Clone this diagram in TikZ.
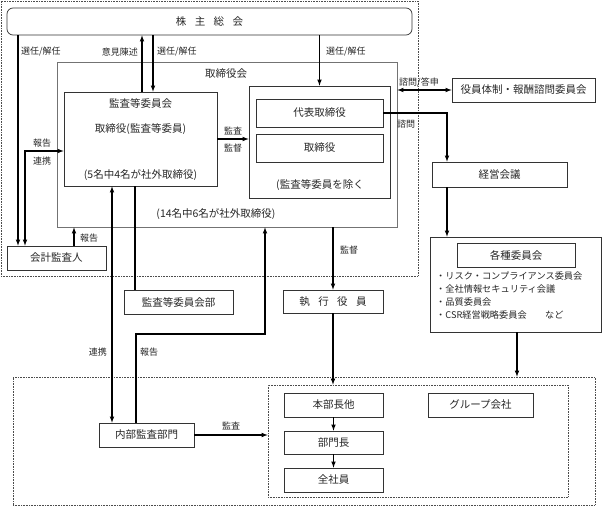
\documentclass[tikz,border=0pt]{standalone}
\usepackage{fontspec}
\setmainfont{Noto Sans CJK JP}
\usetikzlibrary{arrows,positioning}

\newcommand{\jsp}{\hspace{0.8em}}

\begin{document}
\begin{tikzpicture}[x=1pt,y=-1pt,
    box/.style={rectangle, draw=black!80, line width=0.7pt, inner sep=0pt, text=black!85, font=\fontsize{10.5}{12}\selectfont},
    frame/.style={rectangle, draw=black!70, densely dotted, line width=0.6pt, inner sep=0pt},
    txt/.style={inner sep=0pt, text=black!85, font=\fontsize{10.5}{12}\selectfont},
    lbl/.style={inner sep=1pt, text=black!85, font=\fontsize{9}{10}\selectfont},
    arr/.style={-latex, line width=1.1pt},
    darr/.style={latex-latex, line width=1.1pt}]
    \useasboundingbox (0,0) rectangle (603,506);

    % upper part
    \node[frame, minimum width=417pt, minimum height=275pt] (upper) at (209.5,138.5) {};
    \node[box, rounded corners=6pt, minimum width=405pt, minimum height=27pt] (soukai) at (209.5,21.5) {株\jsp 主\jsp 総\jsp 会};

    \node[box, draw=black!55, minimum width=340pt, minimum height=165pt] (board) at (227,144.5) {};
    \node[txt] (boardname) at (226,74) {取締役会};
    \node[txt] (boardnum) at (216,214) {(14名中6名が社外取締役)};

    \node[box, minimum width=153pt, minimum height=94pt] (audit) at (140.5,139) {};
    \node[txt] (auditname) at (140.5,103) {監査等委員会};
    \node[txt] (auditmember) at (140.5,129) {取締役(監査等委員)};
    \node[txt] (auditnum) at (140.5,175) {(5名中4名が社外取締役)};

    \node[box, minimum width=141pt, minimum height=112pt] (exec) at (319.5,142) {};
    \node[box, minimum width=127pt, minimum height=28pt] (ceo) at (319.5,113) {代表取締役};
    \node[box, minimum width=127pt, minimum height=28pt] (directors) at (319.5,148) {取締役};
    \node[txt] (execnote) at (320,185) {(監査等委員を除く};

    \node[box, minimum width=143pt, minimum height=24pt] (advisory) at (523.5,90) {役員体制・報酬諮問委員会};
    \node[box, minimum width=135pt, minimum height=25pt] (mgmt) at (499.5,174.5) {経営会議};
    \node[box, minimum width=171pt, minimum height=95pt] (committees) at (515.5,284.5) {};
    \node[box, minimum width=118pt, minimum height=24pt] (comname) at (516,255) {各種委員会};
    \node[txt, anchor=north west, align=left, font=\fontsize{9.2}{13}\selectfont] (comlist) at (436,272)
        {・リスク・コンプライアンス委員会\\・全社情報セキュリティ会議\\・品質委員会\\・CSR経営戦略委員会\hspace{2em}など};

    \node[box, minimum width=99pt, minimum height=24pt] (accountant) at (56.5,258) {会計監査人};
    \node[box, minimum width=109pt, minimum height=24pt] (auditoffice) at (178.5,302) {監査等委員会部};
    \node[box, minimum width=100pt, minimum height=23pt] (officers) at (333,301.5) {執\jsp 行\jsp 役\jsp 員};
    \node[box, minimum width=95pt, minimum height=24pt] (internal) at (146.5,435) {内部監査部門};

    % lower part
    \node[frame, minimum width=582pt, minimum height=128pt] (lower) at (304,441) {};
    \node[frame, minimum width=300pt, minimum height=112pt] (staff) at (418,441) {};
    \node[box, minimum width=99pt, minimum height=24pt] (hq) at (333.5,405) {本部長他};
    \node[box, minimum width=99pt, minimum height=23pt] (dept) at (333.5,442.5) {部門長};
    \node[box, minimum width=99pt, minimum height=24pt] (all) at (333.5,480) {全社員};
    \node[box, minimum width=105pt, minimum height=24pt] (group) at (480.5,405) {グループ会社};

    % connectors
    \draw[arr] (18,0 |- soukai.south) -- (18,0 |- accountant.north);
    \node[lbl, anchor=west] (l1) at (20,52) {選任/解任};
    \draw[arr] (142,0 |- audit.north) -- (142,0 |- soukai.south);
    \node[lbl, anchor=east] (l2) at (139,52) {意見陳述};
    \draw[arr] (153,0 |- soukai.south) -- (153,0 |- audit.north);
    \node[lbl, anchor=west] (l3) at (156,52) {選任/解任};
    \draw[arr] (soukai.south -| exec.north) -- (exec.north);
    \node[lbl, anchor=west] (l4) at (325,52) {選任/解任};

    \draw[darr] (audit.west |- 0,151) -- (25,151) -- (25,0 |- accountant.north);
    \node[lbl] (l5) at (42,143) {報告};
    \node[lbl] (l6) at (42,161) {連携};
    \draw[arr] (74,0 |- accountant.north) -- (74,0 |- board.south);
    \node[lbl, anchor=west] (l7) at (79,238) {報告};

    \draw[arr] (audit.east |- 0,139) -- (exec.west |- 0,139);
    \node[lbl] (l8) at (233,131) {監査};
    \node[lbl] (l9) at (233,148) {監督};

    \draw[darr] (board.east |- advisory.west) -- (advisory.west);
    \node[lbl] (l10) at (419,82) {諮問/答申};
    \draw[arr] (ceo.east) -- (447,0 |- ceo.east) -- (447,0 |- mgmt.north);
    \node[lbl] (l11) at (406,124) {諮問};
    \draw[arr] (447,0 |- mgmt.south) -- (447,0 |- committees.north);
    \draw[arr] (517,0 |- committees.south) -- (517,0 |- lower.north);

    \draw[arr] (board.south -| officers.north) -- (officers.north);
    \node[lbl, anchor=west] (l12) at (339,250) {監督};
    \draw[arr] (officers.south) -- (officers.south |- staff.north);

    \draw[darr] (112,0 |- audit.south) -- (112,0 |- internal.north);
    \node[lbl, anchor=east] (l13) at (108,352) {連携};
    \draw[line width=1.1pt] (135,0 |- audit.south) -- (135,0 |- auditoffice.north);
    \draw[arr] (136,0 |- internal.north) -- (136,334) -- (265,334) -- (265,0 |- board.south);
    \node[lbl, anchor=west] (l14) at (139,352) {報告};
    \draw[arr] (internal.east) -- (internal.east -| staff.west);
    \node[lbl] (l15) at (231,426) {監査};

    \draw[arr] (hq) -- (dept);
    \draw[arr] (dept) -- (all);
\end{tikzpicture}
\end{document}
